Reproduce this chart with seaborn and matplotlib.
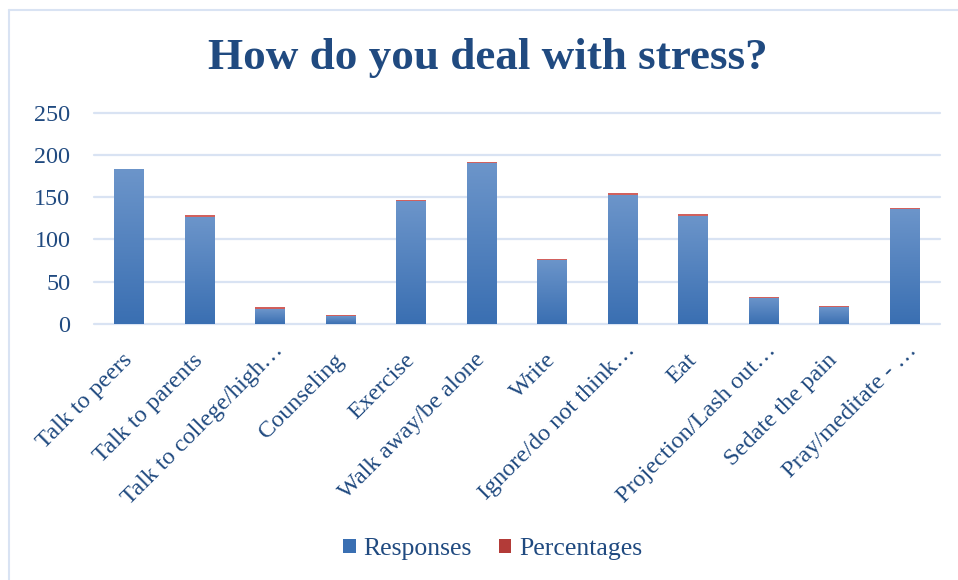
import numpy as np
import pandas as pd
import matplotlib
matplotlib.use("Agg")
import matplotlib.pyplot as plt
import matplotlib.transforms as mtransforms
from matplotlib.colors import LinearSegmentedColormap
from matplotlib.patches import Patch
import seaborn as sns

categories = [
    "Talk to peers", "Talk to parents", "Talk to college/high\u2026", "Counseling",
    "Exercise", "Walk away/be alone", "Write", "Ignore/do not think\u2026",
    "Eat", "Projection/Lash out\u2026", "Sedate the pain", "Pray/meditate - \u2026",
]
responses = [183, 126, 17, 9, 145, 190, 76, 152, 128, 31, 20, 136]
percentages = [0.5, 2.4, 2.4, 1.2, 1.2, 1.2, 0.8, 2.4, 2.4, 0.8, 1.2, 1.2]
y_ticks = [0, 50, 100, 150, 200, 250]

text_color = "#204A80"
grid_color = "#D9E3F3"
blue_top, blue_bot = "#6C95CA", "#3A6FB2"
red_top, red_bot = "#D2625F", "#B33B38"

sns.set_theme(style="white")
plt.rcParams["font.family"] = ["Liberation Serif", "DejaVu Serif"]

df = pd.DataFrame({"category": categories, "Responses": responses,
                   "Percentages": percentages})
df["total"] = df["Responses"] + df["Percentages"]

fig = plt.figure(figsize=(9.58, 5.8), dpi=100)
ax = fig.add_axes([94 / 958, 1 - 323.7 / 580, 846 / 958, (323.7 - 112.7) / 580])

# stacked bars: total (red cap) behind, responses (blue) on top
sns.barplot(data=df, x="category", y="total", color=red_bot, width=0.42,
            ax=ax, saturation=1, zorder=2)
sns.barplot(data=df, x="category", y="Responses", color=blue_bot, width=0.42,
            ax=ax, saturation=1, zorder=3)

# vertical gradient fill clipped to each bar
grad = np.linspace(0, 1, 256).reshape(-1, 1)
cmaps = [LinearSegmentedColormap.from_list("r", [red_bot, red_top]),
         LinearSegmentedColormap.from_list("b", [blue_bot, blue_top])]
n = len(categories)
for i, patch in enumerate(list(ax.patches)):
    cmap = cmaps[0] if i < n else cmaps[1]
    x0, y0 = patch.get_x(), patch.get_y()
    w, h = patch.get_width(), patch.get_height()
    patch.set_edgecolor("none")
    im = ax.imshow(grad, cmap=cmap, origin="lower", aspect="auto",
                   extent=[x0, x0 + w, y0, y0 + h], zorder=patch.get_zorder() + 0.1,
                   interpolation="bilinear")
    im.set_clip_path(patch)

ax.set_xlim(-0.5, n - 0.5)
ax.set_ylim(0, 250)
ax.set_yticks(y_ticks)
ax.set_yticklabels([str(v) for v in y_ticks])
ax.set_xlabel("")
ax.set_ylabel("")
for s in ax.spines.values():
    s.set_visible(False)
ax.grid(False)
for v in y_ticks:
    ax.axhline(v, color=grid_color, lw=1.6, zorder=1, clip_on=False)

ax.tick_params(axis="y", length=0, pad=17, labelsize=17.4, labelcolor=text_color)
ax.tick_params(axis="x", length=0, pad=24, labelsize=17.5, labelcolor=text_color)
ax.set_xticks(range(n))
ax.set_xticklabels(categories, rotation=45, ha="right", va="center",
                   rotation_mode="anchor")
# truncated labels sit a little further along their slope
for lab in ax.get_xticklabels():
    if lab.get_text().endswith("\u2026"):
        lab.set_transform(mtransforms.offset_copy(lab.get_transform(), fig=fig,
                                                  x=9.5, y=10, units="dots"))

fig.text(488 / 958, 1 - 69 / 580, "How do you deal with stress?", ha="center",
         va="baseline", fontsize=32.5, fontweight="bold", color=text_color)

handles = [Patch(facecolor=blue_bot, edgecolor="none"),
           Patch(facecolor=red_bot, edgecolor="none")]
fig.legend(handles, ["Responses", "Percentages"], loc="center",
           bbox_to_anchor=(492.5 / 958, 1 - 549 / 580), ncol=2, frameon=False,
           fontsize=18.5, labelcolor=text_color, handlelength=0.5,
           handleheight=0.5, handletextpad=0.3, columnspacing=1.05)

# chart-area border (top and left edges)
fig.add_artist(plt.Line2D([8.5 / 958, 1], [1 - 9.5 / 580] * 2, color=grid_color,
                          lw=1.5, transform=fig.transFigure))
fig.add_artist(plt.Line2D([8.5 / 958] * 2, [0, 1 - 9.5 / 580], color=grid_color,
                          lw=1.5, transform=fig.transFigure))

fig.savefig("out.png", dpi=100, facecolor="white")
